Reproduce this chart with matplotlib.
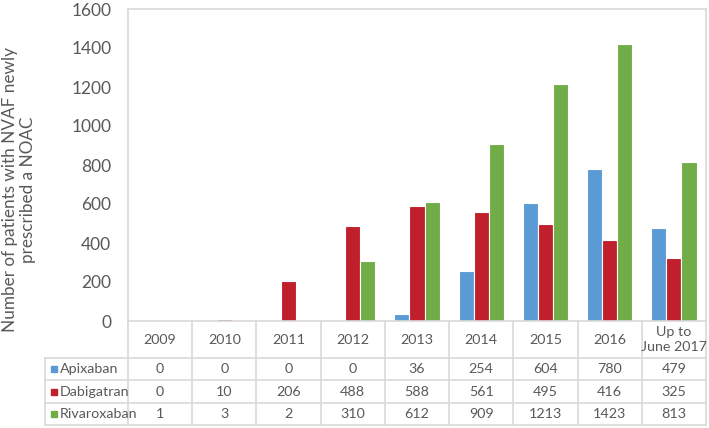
import numpy as np
import matplotlib
matplotlib.use("Agg")
from matplotlib import pyplot as plt

years = ["2009", "2010", "2011", "2012", "2013", "2014", "2015", "2016", "Up to\nJune 2017"]
drugs = ["Apixaban", "Dabigatran", "Rivaroxaban"]
apixaban = [0, 0, 0, 0, 36, 254, 604, 780, 479]
dabigatran = [0, 10, 206, 488, 588, 561, 495, 416, 325]
rivaroxaban = [1, 3, 2, 310, 612, 909, 1213, 1423, 813]
colors = ["#5B9BD5", "#C0202B", "#70AD47"]
yticks = [0, 200, 400, 600, 800, 1000, 1200, 1400, 1600]

plt.rcParams['font.family'] = ['Lato', 'DejaVu Sans']
grey = "#595959"
lc = "#D9D9D9"

W, H = 709, 428
left, right = 128, 706
top, zero, bottom = 9, 321, 425

fig = plt.figure(figsize=(W / 100, H / 100), dpi=100)
ax = fig.add_axes([left / W, 1 - zero / H, (right - left) / W, (zero - top) / H])

x = np.arange(len(years))
bw = 0.235
series = [apixaban, dabigatran, rivaroxaban]
for i, vals in enumerate(series):
    ax.bar(x + (i - 1) * bw, vals, width=bw, color=colors[i], edgecolor="white", linewidth=0.8, zorder=2)

ax.set_xlim(-0.5, len(years) - 0.5)
ax.set_ylim(0, 1600)
ax.set_yticks(yticks)
ax.set_xticks([])
ax.tick_params(axis='y', length=0, pad=12, labelsize=12.5, labelcolor=grey)
for s in ax.spines.values():
    s.set_color(lc)
    s.set_linewidth(1.2)

fig.text(19 / W, 1 - 190 / H, "Number of patients with NVAF newly\nprescribed a NOAC",
         rotation=90, ha='center', va='center', multialignment='center',
         fontsize=12.3, color=grey)

# data table underneath
tb = fig.add_axes([left / W, 1 - bottom / H, (right - left) / W, (bottom - zero) / H])
tb.set_xlim(-0.5, len(years) - 0.5)
tb.set_ylim(bottom - zero, 0)
tb.axis('off')
cw = (right - left) / len(years)
xleg = -0.5 - (left - 45) / cw
rows = [0, 37, 59.3, 81.7, 104]

for i in range(len(years) + 1):
    tb.plot([i - 0.5, i - 0.5], [0, rows[-1]], color=lc, lw=1.2, clip_on=False)
tb.plot([xleg, xleg], [rows[1], rows[-1]], color=lc, lw=1.2, clip_on=False)
for r in rows[1:]:
    tb.plot([xleg, len(years) - 0.5], [r, r], color=lc, lw=1.2, clip_on=False)

for j, lab in enumerate(years):
    tb.text(j, rows[1] / 2, lab, ha='center', va='center', fontsize=10.3, color=grey,
            multialignment='center', linespacing=1.25)

for i, vals in enumerate(series):
    yc = (rows[i + 1] + rows[i + 2]) / 2
    tb.plot([-0.5 - (left - 53.5) / cw], [yc], marker='s', ms=5, color=colors[i],
            linestyle='none', clip_on=False)
    tb.text(-0.5 - (left - 59.5) / cw, yc, drugs[i], ha='left', va='center', fontsize=10.3, color=grey)
    for j, v in enumerate(vals):
        tb.text(j, yc, str(v), ha='center', va='center', fontsize=10.3, color=grey)

fig.savefig("out.png", dpi=100)
